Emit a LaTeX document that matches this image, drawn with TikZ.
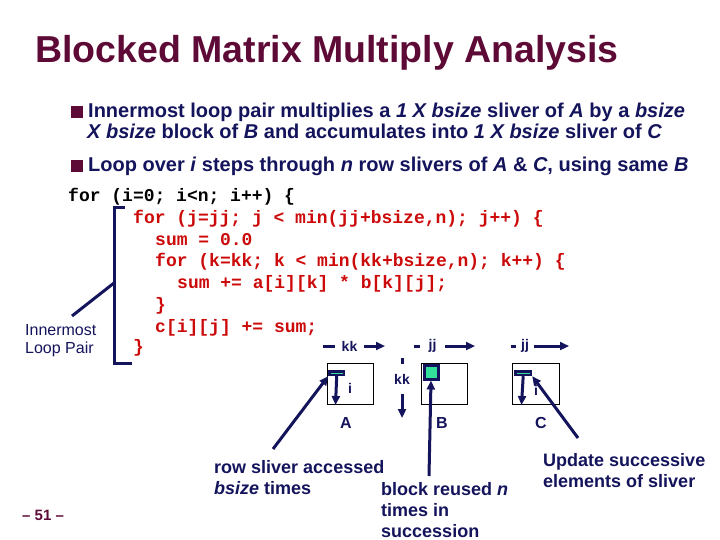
\documentclass[tikz,border=0pt]{standalone}
\usepackage{fontspec}
\setmainfont{Liberation Sans}
\newfontfamily\codefont{Liberation Mono}
\usetikzlibrary{arrows.meta}
\definecolor{navy}{RGB}{20,20,92}
\definecolor{maroonc}{RGB}{94,10,54}
\definecolor{codered}{RGB}{204,10,10}
\definecolor{mint}{RGB}{51,224,153}
\tikzset{
  bul/.style={fill=maroonc, minimum size=11.5pt, inner sep=0, anchor=south west},
  btext/.style={anchor=base west, inner sep=0, text=navy, font=\fontsize{18}{21}\selectfont\bfseries},
  bigtext/.style={btext, font=\fontsize{20}{24}\selectfont\bfseries},
  code/.style={anchor=base west, inner sep=0, font=\fontsize{18}{21}\codefont\bfseries},
  navyline/.style={draw=navy, line width=3pt},
  arr/.style={navyline, -{Triangle[length=9pt,width=8pt]}},
  mbox/.style={draw=black, line width=0.8pt, anchor=north west, inner sep=0},
  sliver/.style={draw=navy, fill=mint, line width=2.4pt, anchor=north west, inner sep=0},
  idx/.style={text=navy, font=\fontsize{14}{16}\selectfont\bfseries, inner sep=0},
  idxw/.style={idx, fill=white, inner ysep=2pt},
  mlabel/.style={text=navy, font=\fontsize{16}{18}\selectfont\bfseries, inner sep=0},
}
\begin{document}
\begin{tikzpicture}[x=1pt,y=-1pt]
\useasboundingbox (0,0) rectangle (720,540);
% title
\node[anchor=base west, inner sep=0, text=maroonc, font=\fontsize{37.5}{40}\selectfont\bfseries] (title) at (35,63) {Blocked Matrix Multiply Analysis};
% bullets
\node[bul] (bu1) at (71,118) {};
\node[bigtext] (t1) at (88,118) {Innermost loop pair multiplies a \textit{1 X bsize} sliver of \textit{A} by a \textit{bsize}};
\node[bigtext] (t2) at (87,139) {\textit{X bsize} block of \textit{B} and accumulates into \textit{1 X bsize} sliver of \textit{C}};
\node[bul] (bu2) at (71,172) {};
\node[bigtext] (t3) at (88,172) {Loop over \textit{i} steps through \textit{n} row slivers of \textit{A} \& \textit{C}, using same \textit{B}};
% code
\node[code, text=black] (c1) at (68,202) {for (i=0; i<n; i++) \{};
\node[code, text=codered] (c2) at (133,223) {for (j=jj; j < min(jj+bsize,n); j++) \{};
\node[code, text=codered] (c3) at (155,245) {sum = 0.0};
\node[code, text=codered] (c4) at (155,266) {for (k=kk; k < min(kk+bsize,n); k++) \{};
\node[code, text=codered] (c5) at (177,288) {sum += a[i][k] * b[k][j];};
\node[code, text=codered] (c6) at (155,310) {\}};
\node[code, text=codered] (c7) at (155,332) {c[i][j] += sum;};
\node[code, text=codered] (c8) at (133,352) {\}};
% bracket and its label
\draw[navyline] (125,208) -- (114,208) -- (114,363) -- (132,363);
\coordinate (brk) at (114,283);
\coordinate (ilptip) at (72,316);
\node[anchor=base west, inner sep=0, text=navy, align=left, font=\fontsize{16}{18}\selectfont] (ilp) at (25,353) {Innermost\\Loop Pair};
\draw[navyline] (ilptip) -- (brk);
% matrix A
\node[mbox, minimum width=46pt, minimum height=41pt] (boxA) at (327,363) {};
\node[sliver, minimum width=14.6pt, minimum height=3.6pt] (slA) at (328.2,370.2) {};
\coordinate (Abot) at (335.5,405);
\draw[arr] (slA.south) -- (Abot);
\node[idx] (iA) at (350,388) {i};
\coordinate (kkAs) at (323,346);
\coordinate (kkAe) at (385,346);
\draw[arr] (kkAs) -- (kkAe);
\node[idxw, inner xsep=7pt] (kkA) at (349.5,346) {kk};
\node[mlabel] (lA) at (346,423) {A};
% matrix B
\node[mbox, minimum width=46pt, minimum height=41pt] (boxB) at (421,363) {};
\node[sliver, line width=3pt, minimum width=14pt, minimum height=14pt] (blB) at (422.5,363.5) {};
\coordinate (jjBs) at (414,346);
\coordinate (jjBe) at (475,346);
\draw[arr] (jjBs) -- (jjBe);
\node[idxw, inner xsep=8.5pt] (jjB) at (432.5,346) {jj};
\coordinate (kkBs) at (402,358);
\coordinate (kkBe) at (402,418);
\draw[arr] (kkBs) -- (kkBe);
\node[idxw, inner ysep=10pt, inner xsep=1pt] (kkB) at (402,379) {kk};
\node[mlabel] (lB) at (442,423) {B};
% matrix C
\node[mbox, minimum width=47pt, minimum height=41pt] (boxC) at (512,363) {};
\node[sliver, minimum width=15.6pt, minimum height=3.6pt] (slC) at (514.2,370.2) {};
\coordinate (Cbot) at (521.5,405);
\draw[arr] (slC.south) -- (Cbot);
\node[idx] (iC) at (536,390) {i};
\coordinate (jjCs) at (511,346);
\coordinate (jjCe) at (569,346);
\draw[arr] (jjCs) -- (jjCe);
\node[idxw, inner xsep=5.5pt] (jjC) at (525,346) {jj};
\node[mlabel] (lC) at (541,423) {C};
% bottom labels (base = last line)
\node[btext, align=left] (rowl) at (214,494) {row sliver accessed\\\textit{bsize} times};
\node[btext, align=left] (blkl) at (381,537) {block reused \textit{n}\\times in\\succession};
\node[btext, align=left] (updl) at (543,487) {Update successive\\elements of sliver};
\coordinate (rowtip) at (273,449);
\coordinate (blktip) at (429,476);
\coordinate (updtip) at (578,438);
\draw[arr] (rowtip) -- (slA.south west);
\draw[arr] (blktip) -- (blB.south);
\draw[arr] (updtip) -- (slC.south east);
% page number
\node[anchor=base west, inner sep=0, text=maroonc, font=\fontsize{15}{17}\selectfont\bfseries] (pg) at (22,520) {– 51 –};
\end{tikzpicture}
\end{document}
